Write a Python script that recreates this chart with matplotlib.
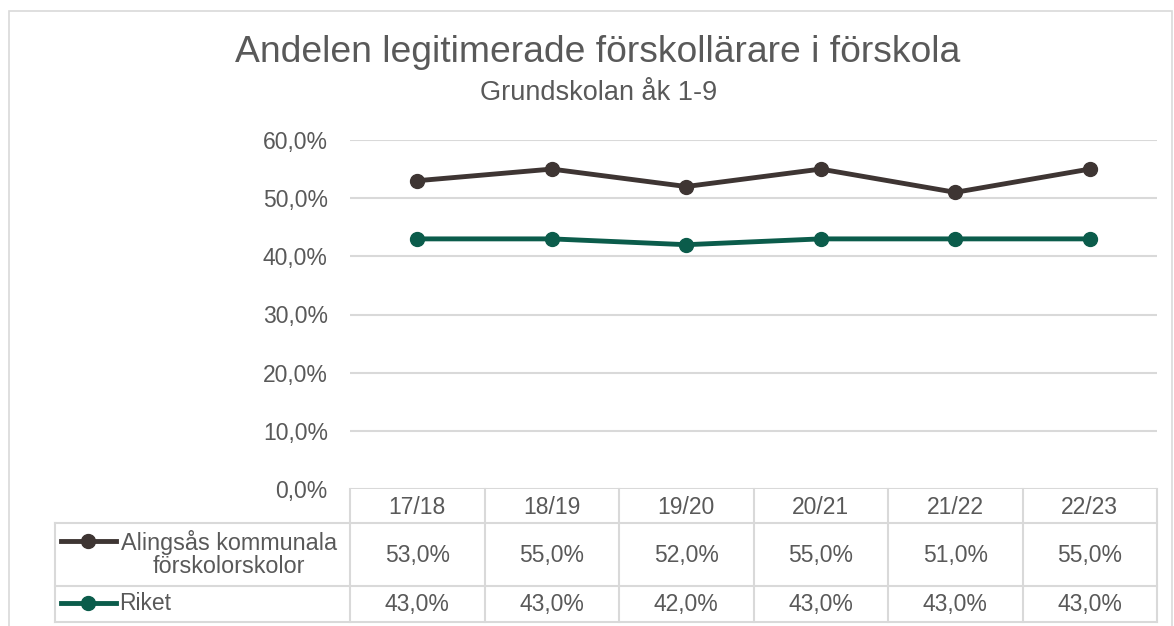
import matplotlib
matplotlib.use("Agg")
import matplotlib.pyplot as plt
from matplotlib.transforms import blended_transform_factory
from matplotlib.lines import Line2D
from matplotlib.patches import Rectangle

plt.rcParams['font.family'] = ['Liberation Sans', 'DejaVu Sans']

categories = ["17/18", "18/19", "19/20", "20/21", "21/22", "22/23"]
alingsas = [0.53, 0.55, 0.52, 0.55, 0.51, 0.55]
riket = [0.43, 0.43, 0.42, 0.43, 0.43, 0.43]
series_names = ["Alingsås kommunala\nförskolorskolor", "Riket"]
yticks = [0.0, 0.1, 0.2, 0.3, 0.4, 0.5, 0.6]

W, H = 1174, 626
fig = plt.figure(figsize=(W / 100, H / 100), dpi=100)

def fx(px):
    return px / W

def fy(py):
    return 1 - py / H

TXT = "#595959"
GRID = "#d9d9d9"
C1 = "#3e3533"
C2 = "#0b5c4b"
FS = 16.5

# outer border
fig.patches.append(Rectangle((fx(9), fy(660)), fx(1163), fy(11) - fy(660),
                             transform=fig.transFigure, fill=False,
                             edgecolor=GRID, linewidth=1.2))

ax_left, ax_right, ax_top, ax_bot = 350, 1157, 140, 489
ax = fig.add_axes([fx(ax_left), fy(ax_bot), fx(ax_right - ax_left), fy(ax_top) - fy(ax_bot)])
ax.set_xlim(-0.5, len(categories) - 0.5)
ax.set_ylim(0, 0.6)
for s in ax.spines.values():
    s.set_visible(False)
ax.set_xticks([])
ax.set_yticks(yticks)
ax.set_yticklabels([f"{v*100:.1f}%".replace(".", ",") for v in yticks],
                   fontsize=FS, color=TXT)
ax.tick_params(axis='y', length=0, pad=16)
ax.grid(axis='y', color=GRID, linewidth=1.5)
ax.set_axisbelow(True)

x = list(range(len(categories)))
ax.plot(x, alingsas, color=C1, linewidth=3.5, marker='o', markersize=10, clip_on=False)
ax.plot(x, riket, color=C2, linewidth=3.5, marker='o', markersize=10, clip_on=False)

# title
fig.text(fx(598), fy(52), "Andelen legitimerade förskollärare i förskola",
         ha='center', va='center', fontsize=26.8, color=TXT)
fig.text(fx(599), fy(93), "Grundskolan åk 1-9",
         ha='center', va='center', fontsize=19.5, color=TXT)

# data table
tr = blended_transform_factory(ax.transData, fig.transFigure)
y_hdr, y_r1, y_r2, y_end = 489, 523, 586, 622
lw = 1.5
for i in range(len(categories) + 1):
    fig.add_artist(Line2D([i - 0.5, i - 0.5], [fy(y_hdr), fy(y_end)], transform=tr,
                          color=GRID, linewidth=lw))
for yy in (y_r1, y_r2, y_end):
    fig.add_artist(Line2D([fx(55), fx(ax_right)], [fy(yy), fy(yy)], transform=fig.transFigure,
                          color=GRID, linewidth=lw))
fig.add_artist(Line2D([fx(55), fx(55)], [fy(y_r1), fy(y_end)], transform=fig.transFigure,
                      color=GRID, linewidth=lw))

def pct(v):
    return f"{v*100:.1f}%".replace(".", ",")

for i, c in enumerate(categories):
    fig.text(i, fy((y_hdr + y_r1) / 2 + 1), c, transform=tr, ha='center', va='center',
             fontsize=FS, color=TXT)
    fig.text(i, fy((y_r1 + y_r2) / 2 + 1), pct(alingsas[i]), transform=tr, ha='center',
             va='center', fontsize=FS, color=TXT)
    fig.text(i, fy((y_r2 + y_end) / 2 + 1), pct(riket[i]), transform=tr, ha='center',
             va='center', fontsize=FS, color=TXT)

# legend keys
for yy, col in ((541, C1), (603, C2)):
    fig.add_artist(Line2D([fx(61), fx(116)], [fy(yy), fy(yy)], transform=fig.transFigure,
                          color=col, linewidth=3.5))
    fig.add_artist(Line2D([fx(88)], [fy(yy)], transform=fig.transFigure, color=col,
                          marker='o', markersize=10, linestyle='none'))
fig.text(fx(229), fy(554), series_names[0], ha='center', va='center', fontsize=16.8,
         color=TXT, linespacing=0.98, multialignment='center')
fig.text(fx(119), fy(603), series_names[1], ha='left', va='center', fontsize=FS, color=TXT)

fig.savefig("out.png", dpi=100)
